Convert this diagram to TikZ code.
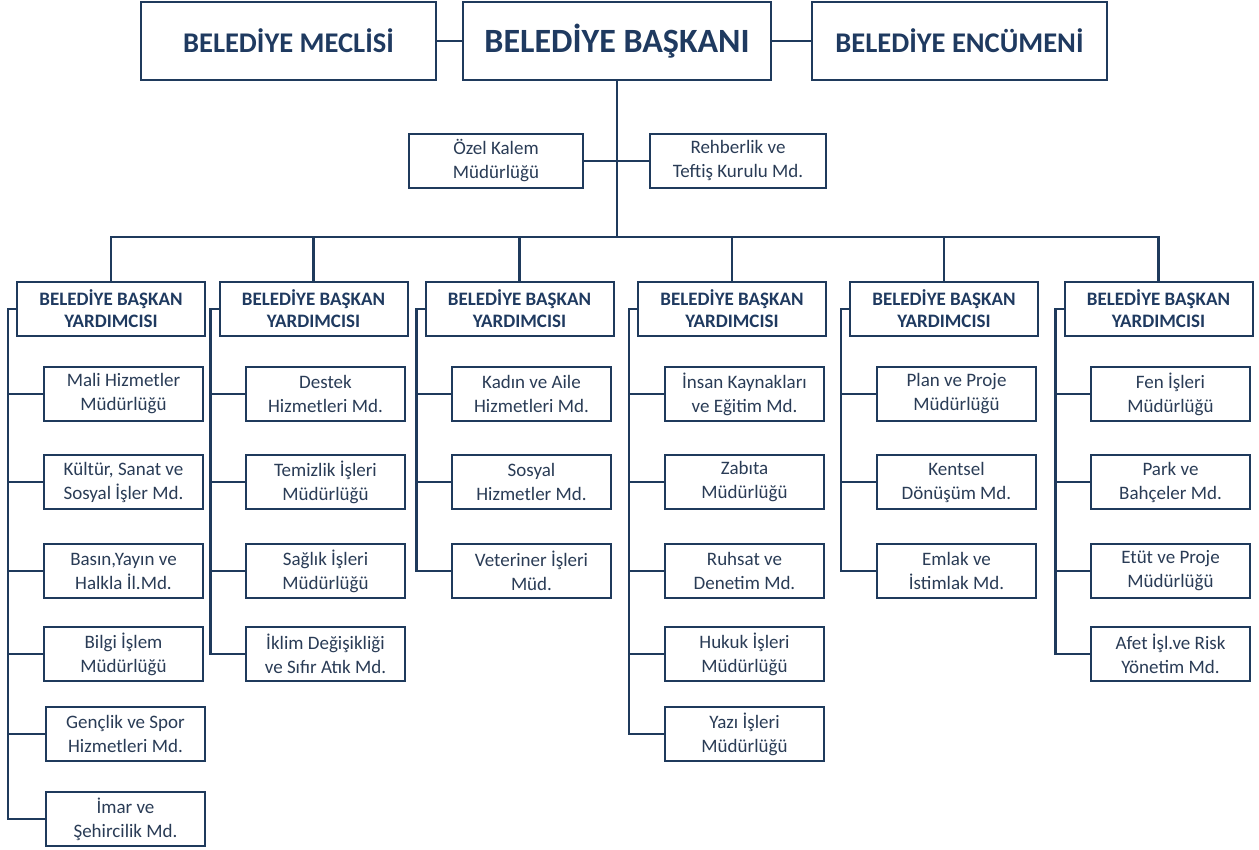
\documentclass[tikz,border=0pt]{standalone}
\usepackage{fontspec}
\setmainfont{Carlito}
\usetikzlibrary{calc}
\definecolor{lineblue}{HTML}{1F3A5C}
\definecolor{txtblue}{HTML}{1F3A60}
\definecolor{txtgrey}{HTML}{2A3C56}
\begin{document}
\begin{tikzpicture}[x=1pt,y=-1pt,
  box/.style={draw=lineblue,line width=2pt,fill=white,inner sep=0pt,align=center},
  topbox/.style={box,minimum height=78pt,font=\fontsize{28.5}{30}\selectfont\bfseries,text=txtblue},
  midbox/.style={box,minimum width=175pt,minimum height=54pt,font=\fontsize{19}{24}\selectfont,text=txtgrey},
  headbox/.style={box,minimum width=188pt,minimum height=54pt,font=\fontsize{19}{22}\selectfont\bfseries,text=txtblue},
  childbox/.style={box,minimum width=159pt,minimum height=54pt,font=\fontsize{19}{24}\selectfont,text=txtgrey},
  conn/.style={draw=lineblue,line width=2.5pt}]
\useasboundingbox (0,0) rectangle (1259,850);
% top row
\node[topbox,minimum width=295pt] (meclis) at (288.5,41) {BELEDİYE MECLİSİ};
\node[topbox,minimum width=308pt,font=\fontsize{34}{36}\selectfont\bfseries] (baskan) at (617,41) {BELEDİYE BAŞKANI};
\node[topbox,minimum width=295pt] (encumen) at (959.5,41) {BELEDİYE ENCÜMENİ};
% staff
\node[midbox,minimum width=174pt] (ozel) at (496,161) {Özel Kalem\\Müdürlüğü};
\node[midbox,minimum width=176pt] (rehber) at (738,161) {Rehberlik ve\\Teftiş Kurulu Md.};
% headers
\foreach \i/\x in {1/111,2/313.5,3/519.5,4/732,5/944,6/1158.5}{
  \node[headbox] (h\i) at (\x,309) {BELEDİYE BAŞKAN\\YARDIMCISI};
}
% col 1
\node[childbox] (c1r1) at (123.5,394) {Mali Hizmetler\\Müdürlüğü};
\node[childbox] (c1r2) at (123.5,482) {Kültür, Sanat ve\\Sosyal İşler Md.};
\node[childbox] (c1r3) at (123.5,571) {Basın,Yayın ve\\Halkla İl.Md.};
\node[childbox] (c1r4) at (123.5,654) {Bilgi İşlem\\Müdürlüğü};
\node[childbox] (c1r5) at (125.5,734) {Gençlik ve Spor\\Hizmetleri Md.};
\node[childbox] (c1r6) at (125.5,819) {İmar ve\\Şehircilik Md.};
% col 2
\node[childbox] (c2r1) at (325.5,394) {Destek\\Hizmetleri Md.};
\node[childbox] (c2r2) at (325.5,482) {Temizlik İşleri\\Müdürlüğü};
\node[childbox] (c2r3) at (325.5,571) {Sağlık İşleri\\Müdürlüğü};
\node[childbox] (c2r4) at (325.5,654) {İklim Değişikliği\\ve Sıfır Atık Md.};
% col 3
\node[childbox] (c3r1) at (531.5,394) {Kadın ve Aile\\Hizmetleri Md.};
\node[childbox] (c3r2) at (531.5,482) {Sosyal\\Hizmetler Md.};
\node[childbox] (c3r3) at (531.5,571) {Veteriner İşleri\\Müd.};
% col 4
\node[childbox] (c4r1) at (744.5,394) {İnsan Kaynakları\\ve Eğitim Md.};
\node[childbox] (c4r2) at (744.5,482) {Zabıta\\Müdürlüğü};
\node[childbox] (c4r3) at (744.5,571) {Ruhsat ve\\Denetim Md.};
\node[childbox] (c4r4) at (744.5,654) {Hukuk İşleri\\Müdürlüğü};
\node[childbox] (c4r5) at (744.5,734) {Yazı İşleri\\Müdürlüğü};
% col 5
\node[childbox] (c5r1) at (956.5,394) {Plan ve Proje\\Müdürlüğü};
\node[childbox] (c5r2) at (956.5,482) {Kentsel\\Dönüşüm Md.};
\node[childbox] (c5r3) at (956.5,571) {Emlak ve\\İstimlak Md.};
% col 6
\node[childbox] (c6r1) at (1170.5,394) {Fen İşleri\\Müdürlüğü};
\node[childbox] (c6r2) at (1170.5,482) {Park ve\\Bahçeler Md.};
\node[childbox] (c6r3) at (1170.5,571) {Etüt ve Proje\\Müdürlüğü};
\node[childbox] (c6r4) at (1170.5,654) {Afet İşl.ve Risk\\Yönetim Md.};
% connectors
\draw[conn] (meclis.east) -- (baskan.west);
\draw[conn] (baskan.east) -- (encumen.west);
\coordinate (bus) at (617,237);
\draw[conn] (baskan.south) -- (bus);
\draw[conn] (ozel.east) -- (rehber.west);
\draw[conn] (h1.north) |- (bus) -| (h6.north);
\foreach \i in {2,3,4,5}{ \draw[conn] (h\i.north) -- (h\i.north |- bus); }
% spines
\foreach \i/\n in {1/6,2/4,3/3,4/5,5/3,6/4}{
  \coordinate (s\i) at ($(h\i.west)+(-8,0)$);
  \draw[conn] (h\i.west) -- (s\i) |- (c\i r\n.west);
  \foreach \r in {1,...,\n}{ \draw[conn] (c\i r\r.west) -- (s\i |- c\i r\r.west); }
}
\end{tikzpicture}
\end{document}
